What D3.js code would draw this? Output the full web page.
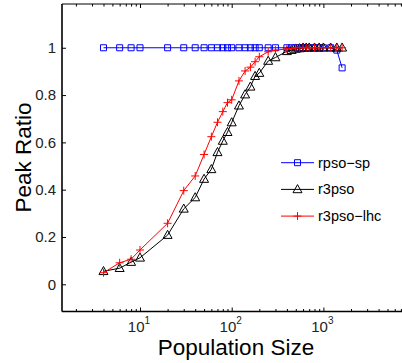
<!DOCTYPE html>
<html>
<head>
<meta charset="utf-8">
<script src="https://cdn.jsdelivr.net/npm/d3@7"></script>
<style>
  body { margin: 0; background: #fff; }
  svg { display: block; font-family: "Liberation Sans", Arial, sans-serif; }
</style>
</head>
<body>
<svg id="chart" width="402" height="363"></svg>
<script>
// data
const popSize = [4, 6, 8, 10, 20, 30, 40, 50, 60, 70, 80, 90, 100, 120, 140, 160, 180, 200,
                 250, 300, 400, 450, 500, 550, 600, 650, 700, 800, 900, 1000, 1200, 1400, 1600];
const rpsoSp = [1, 1, 1, 1, 1, 1, 1, 1, 1, 1, 1, 1, 1, 1, 1, 1, 1, 1,
                1, 1, 1, 1, 1, 1, 1, 1, 1, 1, 1, 1, 1, 0.99, 0.915];
const r3pso = [0.055, 0.068, 0.094, 0.112, 0.208, 0.319, 0.367, 0.445, 0.486, 0.558, 0.606, 0.643, 0.684,
               0.755, 0.802, 0.835, 0.88, 0.893, 0.944, 0.959, 0.985, 0.99, 0.995, 0.997, 1, 1, 1, 1, 1, 1, 1, 1, 1];
const r3psoLhc = [0.049, 0.091, 0.106, 0.145, 0.258, 0.396, 0.458, 0.549, 0.624, 0.685, 0.73, 0.768, 0.78,
                  0.86, 0.902, 0.918, 0.941, 0.962, 0.983, 0.99, 0.995, 0.997, 1, 1, 1, 1, 1, 1, 1, 1, 1, 1, 1];
const seriesNames = ["rpso\u2212sp", "r3pso", "r3pso\u2212lhc"];
const yTicks = [0, 0.2, 0.4, 0.6, 0.8, 1];
const yTickLabels = ["0", "0.2", "0.4", "0.6", "0.8", "1"];
const xTicks = [10, 100, 1000, 10000];
const xLabelTicks = [10, 100, 1000];   // 10^4 sits past the right edge
const xTickExp = ["1", "2", "3"];

const svg = d3.select("#chart");

const plotLeft = 62, plotRight = 415.1, plotTop = 4, plotBottom = 311.5;

const x = d3.scaleLog().domain([1.411, 10000]).range([plotLeft, plotRight]);
const y = d3.scaleLinear().domain([-0.115, 1.185]).range([plotBottom, plotTop]);

// minor ticks 2..9 for each decade
let minor = [];
for (let d = 1; d <= 1000; d *= 10) {
    for (let k = 2; k <= 9; k++) minor.push(k * d);
}
minor = minor.filter(v => x(v) > plotLeft);

// axes frame
const frame = svg.append("g").attr("stroke", "#000").attr("fill", "none");
frame.append("line").attr("x1", plotLeft).attr("x2", plotRight).attr("y1", plotTop).attr("y2", plotTop).attr("stroke-width", 1);
frame.append("line").attr("x1", plotLeft).attr("x2", plotRight).attr("y1", plotBottom).attr("y2", plotBottom).attr("stroke-width", 1.6);
frame.append("line").attr("x1", plotLeft).attr("x2", plotLeft).attr("y1", plotTop).attr("y2", plotBottom).attr("stroke-width", 1.6);

// ticks point inward, MATLAB style
const xaxisB = svg.append("g").attr("transform", `translate(0, ${plotBottom})`)
    .call(d3.axisBottom(x).tickValues(xTicks).tickSize(-4).tickFormat(""));
const xminorB = svg.append("g").attr("transform", `translate(0, ${plotBottom})`)
    .call(d3.axisBottom(x).tickValues(minor).tickSize(-2.5).tickFormat(""));
const xaxisT = svg.append("g").attr("transform", `translate(0, ${plotTop})`)
    .call(d3.axisTop(x).tickValues(xTicks).tickSize(-4).tickFormat(""));
const xminorT = svg.append("g").attr("transform", `translate(0, ${plotTop})`)
    .call(d3.axisTop(x).tickValues(minor).tickSize(-2.5).tickFormat(""));
const yaxis = svg.append("g").attr("transform", `translate(${plotLeft}, 0)`)
    .call(d3.axisLeft(y).tickValues(yTicks).tickSize(-4).tickPadding(6)
        .tickFormat((d, i) => yTickLabels[i]));

[xaxisB, xminorB, xaxisT, xminorT, yaxis].forEach(g => {
    g.select(".domain").remove();
    g.selectAll(".tick line").attr("stroke", "#000");
});
yaxis.selectAll("text").attr("font-size", 15).attr("fill", "#222")
    .attr("font-family", "Liberation Sans, Arial, sans-serif");

// x tick labels with superscript exponent
const xl = svg.append("g").selectAll("text").data(xLabelTicks).join("text")
    .attr("x", d => x(d) - 1)
    .attr("y", 332)
    .attr("text-anchor", "middle")
    .attr("fill", "#222")
    .attr("font-size", 15);
xl.append("tspan").text("10");
xl.append("tspan").attr("font-size", 10).attr("dy", -8).text((d, i) => xTickExp[i]);

// axis titles
svg.append("text")
    .attr("x", 236).attr("y", 355)
    .attr("text-anchor", "middle")
    .attr("font-size", 22.5)
    .text("Population Size");
svg.append("text")
    .attr("transform", "translate(30.5, 157.5) rotate(-90)")
    .attr("text-anchor", "middle")
    .attr("font-size", 22.5)
    .text("Peak Ratio");

// markers
const markers = {
    square: "M-3,-3H3V3H-3Z",
    triangle: "M0,-4.8L4.5,3.3H-4.5Z",
    plus: "M-4,0H4M0,-4V4"
};

const series = [
    { name: seriesNames[0], values: rpsoSp, color: "#0000ff", marker: markers.square },
    { name: seriesNames[1], values: r3pso, color: "#000000", marker: markers.triangle },
    { name: seriesNames[2], values: r3psoLhc, color: "#ff0000", marker: markers.plus }
];

const line = d3.line().x(d => x(d[0])).y(d => y(d[1]));

series.forEach(s => {
    const pts = popSize.map((p, i) => [p, s.values[i]]);
    const g = svg.append("g");
    g.append("path").datum(pts)
        .attr("d", line)
        .attr("fill", "none")
        .attr("stroke", s.color)
        .attr("stroke-width", 1);
    g.selectAll("path.m").data(pts).join("path")
        .attr("class", "m")
        .attr("transform", d => `translate(${x(d[0])}, ${y(d[1])})`)
        .attr("d", s.marker)
        .attr("fill", "none")
        .attr("stroke", s.color)
        .attr("stroke-width", 1);
});

// legend
const legend = svg.append("g").attr("transform", "translate(281, 162.7)");
const rows = legend.selectAll("g").data(series).join("g")
    .attr("transform", (d, i) => `translate(0, ${i * 26.7})`);
rows.append("line").attr("x1", 0).attr("x2", 33).attr("y1", 0).attr("y2", 0)
    .attr("stroke", d => d.color);
rows.append("path").attr("transform", "translate(16.5, 0)")
    .attr("d", d => d.marker).attr("fill", "none").attr("stroke", d => d.color);
rows.append("text").attr("x", 37).attr("y", 0).attr("dy", "0.35em")
    .attr("font-size", 14.5)
    .text(d => d.name);
</script>
</body>
</html>
